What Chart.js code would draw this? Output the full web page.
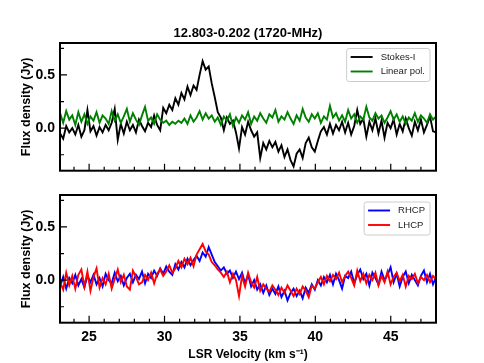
<!DOCTYPE html>
<html>
<head>
<meta charset="utf-8">
<script src="https://cdn.jsdelivr.net/npm/chart.js@4.4.1/dist/chart.umd.min.js"></script>
<style>
body { margin: 0; background: #fff; }
#wrap { position: relative; width: 484px; height: 363px; }
canvas { position: absolute; left: 0; }
</style>
</head>
<body>
<div id="wrap">
  <canvas id="topChart" width="484" height="185" style="top:0"></canvas>
  <canvas id="bottomChart" width="484" height="183" style="top:180px"></canvas>
</div>
<script>
// Labels and ticks
const titleText = "12.803-0.202 (1720-MHz)";
const xLabel = "LSR Velocity (km s\u207B\u00B9)";
const yLabel = "Flux density (Jy)";
const xTicks = [25, 30, 35, 40, 45];
const yTicks = [0, 0.5];
const xMinorTicks = [24, 25, 26, 27, 28, 29, 30, 31, 32, 33, 34, 35, 36, 37, 38, 39, 40, 41, 42, 43, 44, 45, 46, 47];
const yMinorTicks = [-0.25, 0, 0.25, 0.5, 0.75];

// Channel grid (km/s)
const velStart = 23.08;
const velStep = 0.201;

// Spectra (Jy), one value per channel
const stokesI = [
  -0.05, -0.10, 0.02, -0.04, 0.00, -0.06, 0.03, -0.08, -0.02, 0.17,
  -0.03, 0.02, -0.07, 0.01, -0.04, 0.03, -0.02, 0.05, 0.18, -0.11,
  0.04, -0.05, 0.06, -0.02, 0.03, -0.04, 0.08, 0.02, -0.03, 0.05,
  0.01, 0.12, 0.03, -0.02, 0.19, 0.14, 0.22, 0.17, 0.28, 0.22,
  0.33, 0.27, 0.39, 0.31, 0.40, 0.36, 0.50, 0.63, 0.55, 0.58,
  0.42, 0.29, 0.15, 0.10, -0.02, 0.10, 0.04, 0.07, -0.04, -0.19,
  0.01, -0.06, 0.06, -0.02, -0.08, -0.04, -0.28, -0.14, -0.20, -0.12,
  -0.18, -0.13, -0.22, -0.16, -0.27, -0.20, -0.30, -0.36, -0.24, -0.20,
  -0.28, -0.14, -0.09, -0.18, -0.22, -0.12, -0.03, 0.01, -0.06, 0.04,
  -0.05, 0.03, -0.02, 0.06, -0.04, 0.05, -0.06, 0.02, 0.17, 0.04,
  0.09, -0.08, 0.06, -0.02, 0.09, -0.05, 0.07, -0.09, 0.05, 0.00,
  0.08, -0.06, 0.04, -0.03, 0.09, 0.00, -0.07, 0.06, -0.02, 0.08,
  -0.04, 0.03, 0.11, -0.03, -0.04
];
const linearPol = [
  0.14, 0.05, 0.16, 0.08, 0.12, 0.03, 0.15, 0.06, 0.13, 0.04,
  0.11, 0.07, 0.15, 0.05, 0.12, 0.09, 0.04, 0.16, 0.07, 0.13,
  0.05, 0.11, 0.18, 0.06, 0.14, 0.08, 0.03, 0.12, 0.20, 0.07,
  0.10, 0.04, 0.13, 0.08, 0.05, 0.07, 0.03, 0.06, 0.04, 0.07,
  0.05, 0.09, 0.04, 0.12, 0.06, 0.10, 0.16, 0.08, 0.14, 0.09,
  0.12, 0.06, 0.10, 0.03, 0.11, 0.07, 0.13, 0.02, 0.10, 0.05,
  0.12, 0.08, 0.15, 0.04, 0.11, 0.07, 0.14, 0.09, 0.05, 0.13,
  0.10, 0.17, 0.06, 0.11, 0.08, 0.15, 0.09, 0.04, 0.12, 0.07,
  0.18, 0.10, 0.06, 0.13, 0.09, 0.14, 0.05, 0.11, 0.08, 0.21,
  0.10, 0.14, 0.07, 0.12, 0.06, 0.17, 0.09, 0.13, 0.05, 0.11,
  0.08, 0.20, 0.10, 0.07, 0.14, 0.09, 0.12, 0.05, 0.10, 0.16,
  0.08, 0.13, 0.06, 0.11, 0.04, 0.10, 0.07, 0.14, 0.06, 0.12,
  0.09, 0.05, 0.13, 0.08, 0.11
];
const rhcp = [
  -0.06, 0.03, -0.08, 0.02, -0.03, 0.05, -0.05, 0.01, -0.07, 0.04,
  -0.02, 0.05, -0.04, 0.02, -0.06, 0.06, 0.00, -0.03, 0.07, -0.01,
  0.04, -0.05, 0.02, 0.06, -0.02, 0.05, 0.01, 0.08, -0.03, 0.06,
  0.02, 0.09, 0.04, 0.11, 0.06, 0.13, 0.08, 0.05, 0.15, 0.10,
  0.17, 0.12, 0.20, 0.14, 0.19, 0.23, 0.18, 0.26, 0.22, 0.31,
  0.24, 0.17, 0.13, 0.09, 0.12, 0.06, 0.09, 0.02, 0.08, 0.01,
  0.07, -0.03, 0.05, -0.06, 0.00, -0.09, -0.04, -0.12, -0.05, -0.14,
  -0.08, -0.13, -0.06, -0.16, -0.10, -0.19, -0.12, -0.08, -0.15, -0.10,
  -0.17, -0.07, -0.12, -0.04, -0.09, 0.00, -0.05, 0.03, -0.02, 0.05,
  -0.04, 0.06, 0.00, -0.08, 0.04, 0.02, 0.08, -0.03, 0.05, 0.10,
  0.01, 0.06, -0.05, 0.07, 0.02, -0.04, 0.08, 0.00, 0.05, 0.12,
  -0.02, 0.06, -0.06, 0.03, 0.08, -0.03, 0.05, 0.00, -0.05, 0.04,
  0.09, -0.02, 0.06, -0.04, 0.03
];
const lhcp = [
  -0.02, -0.09, 0.07, -0.05, 0.04, -0.08, 0.05, 0.10, -0.06, 0.08,
  -0.10, 0.03, 0.11, -0.07, 0.02, -0.04, 0.06, -0.08, 0.01, 0.10,
  -0.02, 0.05, -0.06, -0.09, 0.09, 0.03, -0.04, -0.02, 0.05, 0.00,
  0.07, -0.03, 0.06, 0.10, 0.04, 0.08, 0.14, 0.07, 0.11, 0.18,
  0.12, 0.20, 0.15, 0.21, 0.13, 0.24, 0.29, 0.34, 0.27, 0.24,
  0.17, 0.14, 0.10, 0.07, 0.03, 0.08, -0.02, 0.06, 0.00, -0.15,
  0.04, -0.06, 0.07, -0.02, -0.07, 0.03, -0.10, -0.04, -0.08, -0.11,
  -0.05, -0.09, -0.14, -0.07, -0.12, -0.05, -0.10, -0.15, -0.08, -0.13,
  -0.06, -0.10, -0.16, -0.05, -0.08, -0.02, 0.03, -0.04, 0.04, -0.01,
  0.05, 0.01, 0.07, -0.02, 0.04, 0.08, 0.02, -0.05, 0.09, -0.01,
  0.06, -0.03, 0.05, 0.00, 0.07, -0.05, 0.04, -0.02, 0.08, -0.04,
  0.03, 0.07, -0.01, 0.05, -0.06, 0.04, 0.01, 0.06, -0.03, 0.03,
  0.00, 0.05, -0.02, 0.04, 0.01
];

Chart.defaults.font.family = '"Liberation Sans", Arial, sans-serif';
Chart.defaults.color = "#000";

function toPoints(values) {
    return values.map((y, i) => ({ x: velStart + i * velStep, y: y }));
}

// Inward ticks, frame, title and legend box (matplotlib look)
const framePlugin = {
    id: "frame",
    afterDraw(chart, args, opts) {
        const ctx = chart.ctx;
        const a = chart.chartArea;
        const xs = chart.scales.x;
        const ys = chart.scales.y;
        ctx.save();
        ctx.strokeStyle = "#000";
        ctx.lineWidth = 1.2;
        ctx.beginPath();
        xMinorTicks.forEach(v => {
            const px = xs.getPixelForValue(v);
            const len = xTicks.includes(v) ? 7 : 4;
            ctx.moveTo(px, a.bottom);
            ctx.lineTo(px, a.bottom - len);
        });
        yMinorTicks.forEach(v => {
            const py = ys.getPixelForValue(v);
            const len = yTicks.includes(v) ? 7 : 4;
            ctx.moveTo(a.left, py);
            ctx.lineTo(a.left + len, py);
        });
        ctx.stroke();
        ctx.lineWidth = 2;
        ctx.strokeRect(a.left, a.top, a.right - a.left, a.bottom - a.top);

        if (opts.title) {
            ctx.fillStyle = "#000";
            ctx.font = 'bold 13px "Liberation Sans", Arial, sans-serif';
            ctx.textAlign = "center";
            ctx.textBaseline = "middle";
            ctx.fillText(opts.title, (a.left + a.right) / 2, a.top - 10);
        }

        // legend box in upper right
        const sets = chart.data.datasets;
        ctx.font = '9.5px "Liberation Sans", Arial, sans-serif';
        const w = Math.max(...sets.map(d => ctx.measureText(d.label).width)) + 39;
        const h = 14.5 * sets.length + 4;
        const bx = a.right - 6 - w;
        const by = a.top + opts.legendTop;
        ctx.beginPath();
        ctx.roundRect(bx, by, w, h, 2.5);
        ctx.fillStyle = "rgba(255,255,255,0.85)";
        ctx.fill();
        ctx.strokeStyle = "#cccccc";
        ctx.lineWidth = 1;
        ctx.stroke();
        ctx.textAlign = "left";
        ctx.textBaseline = "middle";
        sets.forEach((d, i) => {
            const cy = by + 8.5 + i * 14.5;
            ctx.beginPath();
            ctx.strokeStyle = d.borderColor;
            ctx.lineWidth = 1.9;
            ctx.moveTo(bx + 4, cy);
            ctx.lineTo(bx + 26, cy);
            ctx.stroke();
            ctx.fillStyle = "#222";
            ctx.fillText(d.label, bx + 34, cy);
        });
        ctx.restore();
    }
};

function makeOptions(isBottom) {
    return {
        responsive: false,
        animation: false,
        layout: { padding: { left: 0, right: 48, top: isBottom ? 15 : 43, bottom: 0 } },
        plugins: {
            legend: { display: false },
            tooltip: { enabled: false },
            frame: isBottom ? { legendTop: 7 } : { title: titleText, legendTop: 5.5 }
        },
        elements: { point: { radius: 0 }, line: { tension: 0 } },
        scales: {
            x: {
                type: "linear",
                min: 23.07,
                max: 48.0,
                grid: { display: false, drawTicks: false },
                border: { display: false },
                afterBuildTicks: s => { s.ticks = xTicks.map(v => ({ value: v })); },
                afterFit: s => { s.height = isBottom ? 40.3 : 14.3; },
                ticks: {
                    display: isBottom,
                    padding: 6,
                    font: { size: 14, weight: "bold" },
                    callback: v => String(v)
                },
                title: {
                    display: isBottom,
                    text: xLabel,
                    font: { size: 12, weight: "bold" },
                    padding: { top: 0, bottom: 1 }
                }
            },
            y: {
                min: -0.4,
                max: 0.8,
                grid: { display: false, drawTicks: false },
                border: { display: false },
                afterBuildTicks: s => { s.ticks = yTicks.map(v => ({ value: v })); },
                afterFit: s => { s.width = 60; },
                ticks: {
                    padding: 5,
                    font: { size: 14, weight: "bold" },
                    callback: v => v.toFixed(1)
                },
                title: {
                    display: true,
                    text: yLabel,
                    font: { size: 12.5, weight: "bold" },
                    padding: { top: 19, bottom: 0 }
                }
            }
        }
    };
}

new Chart(document.getElementById("topChart"), {
    type: "line",
    data: {
        datasets: [
            { label: "Stokes-I", data: toPoints(stokesI), borderColor: "#000000", borderWidth: 1.9, order: 1 },
            { label: "Linear pol.", data: toPoints(linearPol), borderColor: "#008000", borderWidth: 1.9, order: 0 }
        ]
    },
    options: makeOptions(false),
    plugins: [framePlugin]
});

new Chart(document.getElementById("bottomChart"), {
    type: "line",
    data: {
        datasets: [
            { label: "RHCP", data: toPoints(rhcp), borderColor: "#0000ff", borderWidth: 1.9, order: 1 },
            { label: "LHCP", data: toPoints(lhcp), borderColor: "#ff0000", borderWidth: 1.9, order: 0 }
        ]
    },
    options: makeOptions(true),
    plugins: [framePlugin]
});
</script>
</body>
</html>
